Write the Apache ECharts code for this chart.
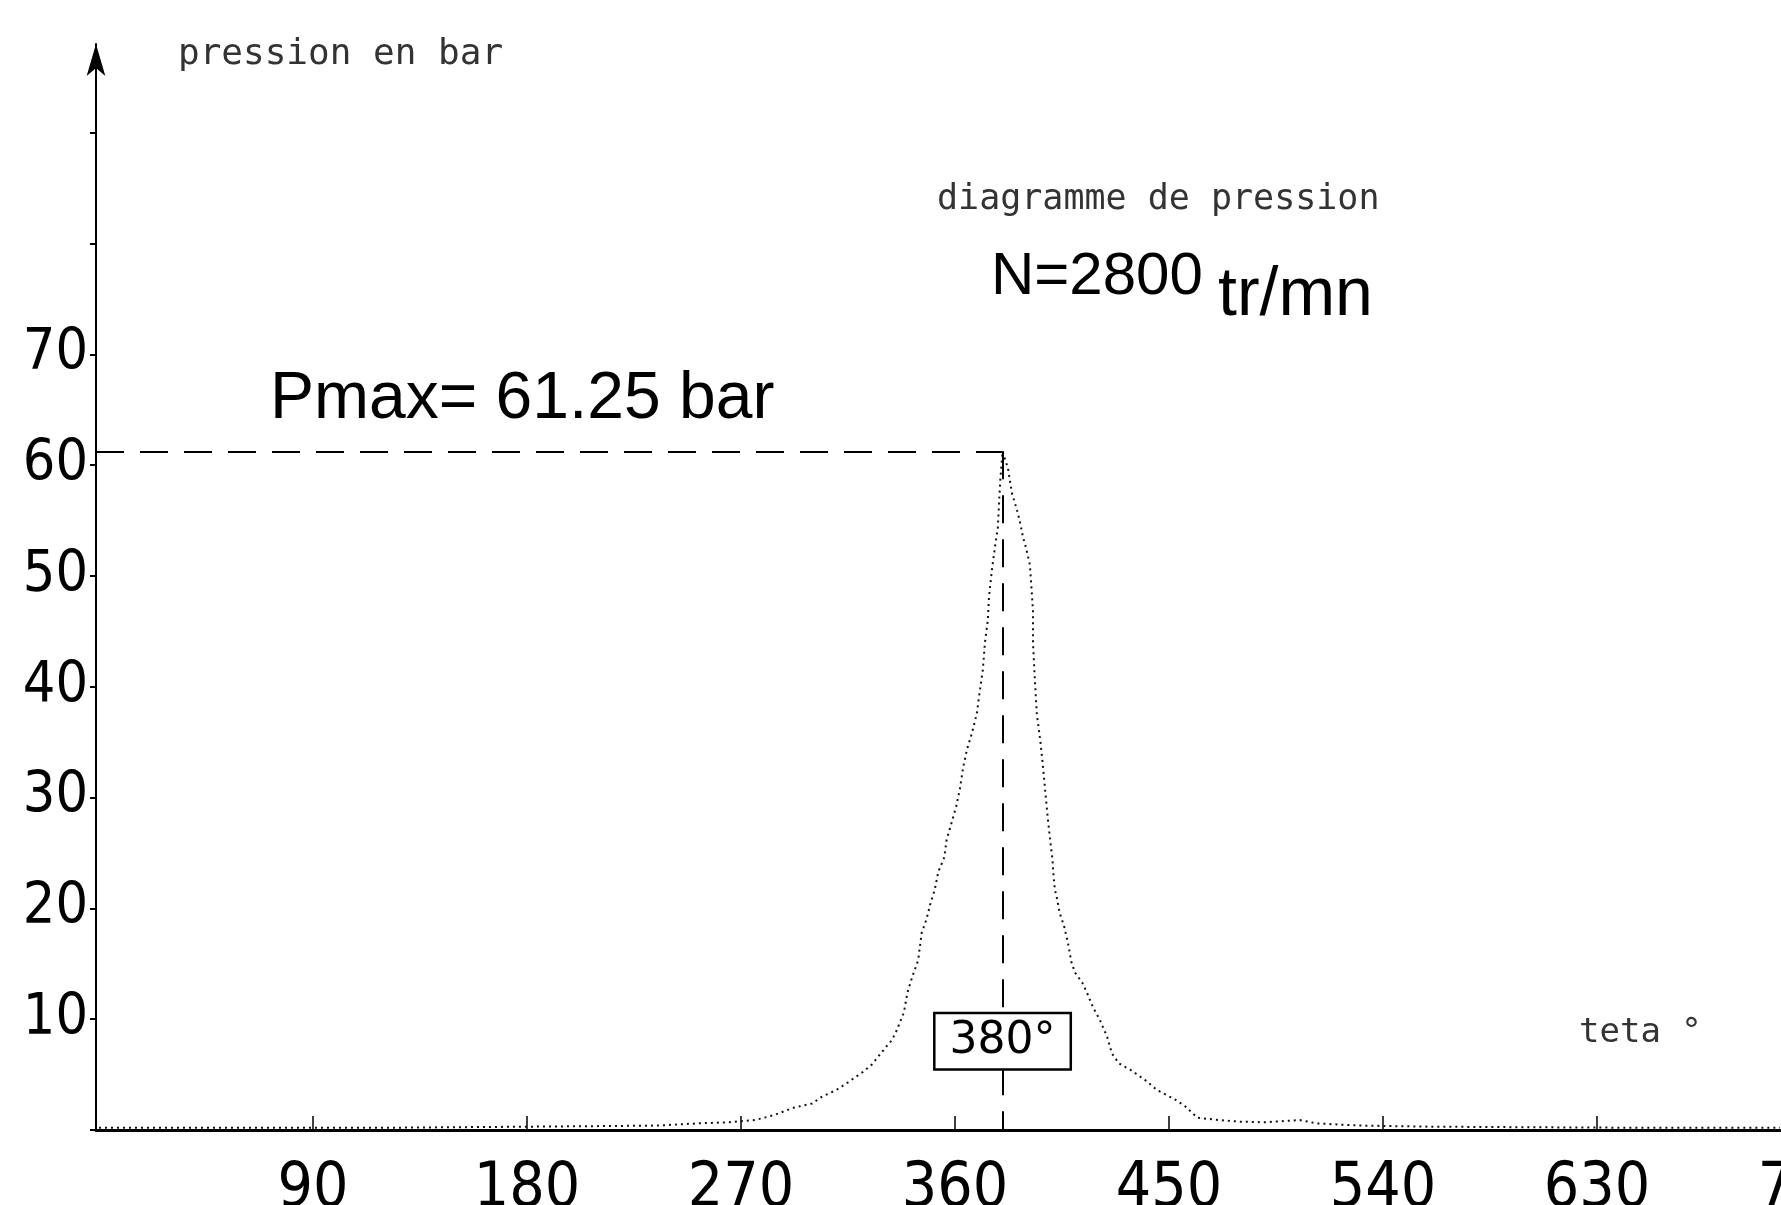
<!DOCTYPE html>
<html><head><meta charset="utf-8">
<script src="https://cdn.jsdelivr.net/npm/echarts@6/dist/echarts.min.js"></script>
<style>html,body{margin:0;padding:0;background:#fff}#c{width:1781px;height:1205px}</style>
</head><body><div id="c"></div>
<script>
// crank angle (deg) and cylinder pressure (bar)
const theta = [0, 30, 60, 90, 120, 150, 180, 210, 235, 252, 265, 276, 284, 292, 300, 304, 310, 315, 321, 325, 331.8, 333.5, 335.5, 338.5, 340, 342, 344.5, 346, 348, 349.5, 351.5, 353, 355.5, 356.5, 358, 360.5, 362, 363.5, 365, 367.1, 369.2, 370.1, 371.7, 372.6, 373.8, 374.3, 375.5, 376.8, 378, 379, 380, 382.3, 383.9, 386, 387.3, 388.6, 389.8, 391.5, 392.8, 392.8, 393.6, 394.4, 396, 397, 398, 399, 400, 401, 401.5, 402, 403, 404, 406, 407.5, 409, 410.5, 413.5, 415.5, 418, 421, 424, 426, 429, 434, 440, 445, 453, 457, 462, 471, 480, 490, 505, 512, 530, 560, 600, 650, 707];
const pressure = [0.2, 0.2, 0.2, 0.2, 0.2, 0.25, 0.3, 0.35, 0.4, 0.6, 0.7, 0.9, 1.35, 2.0, 2.4, 3.0, 3.6, 4.3, 5.2, 5.9, 7.7, 8.1, 9.0, 10.6, 12.4, 13.8, 15.3, 17.8, 19.0, 20.3, 21.7, 23.3, 24.6, 26.2, 27.3, 29.2, 30.7, 32.8, 34.3, 35.8, 37.6, 39.1, 41.5, 44.0, 46.0, 48.1, 50.5, 52.6, 54.3, 58.5, 61.25, 59.7, 57.5, 56.0, 54.9, 53.5, 52.6, 51.0, 46.9, 44.0, 40.6, 37.6, 34.9, 32.8, 30.5, 28.2, 26.2, 24.4, 22.8, 21.7, 20.8, 19.6, 18.3, 16.9, 15.1, 14.2, 13.3, 12.4, 11.1, 9.9, 8.4, 6.9, 6.0, 5.4, 4.5, 3.6, 2.7, 2.1, 1.1, 0.9, 0.75, 0.7, 0.9, 0.6, 0.4, 0.3, 0.25, 0.2, 0.2];
const xTickValues = [90, 180, 270, 360, 450, 540, 630, 720];
const yTickValues = [0, 10, 20, 30, 40, 50, 60, 70, 80, 90];
const yLabelValues = [10, 20, 30, 40, 50, 60, 70];
const titleText = 'diagramme de pression';
const speedText = 'N=2800';
const speedUnit = 'tr/mn';
const yName = 'pression en bar';
const xName = 'teta °';

const pMax = Math.max(...pressure);
const thetaPeak = theta[pressure.indexOf(pMax)];
const xMin = -1.25;

const chart = echarts.init(document.getElementById('c'));
const narrow = "'Liberation Sans Narrow', 'DejaVu Sans Condensed', 'Liberation Sans', sans-serif";
const mono = "'DejaVu Sans Mono', 'Liberation Mono', monospace";
const dash = [28, 16];

chart.setOption({
  backgroundColor: '#fff',
  animation: false,
  grid: { left: 96, right: -30, top: 44, bottom: 75, outerBoundsMode: 'none', containLabel: false },
  xAxis: {
    type: 'value', min: xMin, max: 720,
    axisLine: { onZero: true, lineStyle: { color: '#000', width: 3 } },
    axisTick: { show: true, inside: true, length: 14, customValues: xTickValues, lineStyle: { color: '#000', width: 1.5 } },
    axisLabel: { customValues: xTickValues, margin: 29, fontSize: 62, fontFamily: narrow, color: '#000', hideOverlap: false },
    splitLine: { show: false }
  },
  yAxis: {
    type: 'value', min: 0, max: 98,
    axisLine: { show: true, onZero: false, symbol: ['none', 'arrow'], symbolSize: [14, 32], lineStyle: { color: '#000', width: 2 } },
    axisTick: { show: true, length: 6, customValues: yTickValues, lineStyle: { color: '#000', width: 2 } },
    axisLabel: { customValues: yLabelValues, margin: 8, fontSize: 57, fontFamily: narrow, color: '#000' },
    splitLine: { show: false }
  },
  series: [{
    type: 'line',
    data: theta.map((t, i) => [t, pressure[i]]),
    showSymbol: false,
    lineStyle: { color: '#111', width: 2, type: [2, 4] },
    markLine: {
      silent: true, symbol: 'none', animation: false,
      label: { show: false },
      lineStyle: { color: '#000', width: 2, type: dash },
      data: [
        [{ coord: [xMin, pMax] }, { coord: [thetaPeak, pMax] }],
        [{ coord: [thetaPeak, pMax] }, { coord: [thetaPeak, 0] }]
      ]
    },
    markPoint: {
      symbol: 'rect', symbolSize: 0,
      data: [{ coord: [thetaPeak, 8] }],
      label: {
        show: true, formatter: thetaPeak + '°', color: '#000',
        fontSize: 44, fontFamily: "'DejaVu Sans', sans-serif", lineHeight: 40,
        backgroundColor: '#fff', borderColor: '#000', borderWidth: 2.5, padding: [7, 14]
      }
    }
  }],
  graphic: [
    { type: 'text', left: 178, top: 37, style: { text: yName, font: '36px ' + mono, fill: '#333' } },
    { type: 'text', left: 937, top: 182, style: { text: titleText, font: '35px ' + mono, fill: '#333' } },
    { type: 'text', left: 991, top: 247, style: { text: speedText, font: "60px 'Liberation Sans', sans-serif", fill: '#000' } },
    { type: 'text', left: 1218, top: 262, style: { text: speedUnit, font: "68px 'Liberation Sans', sans-serif", fill: '#000' } },
    { type: 'text', left: 270, top: 367, style: { text: 'Pmax= ' + pMax.toFixed(2) + ' bar', font: "66px 'Liberation Sans', sans-serif", fill: '#000' } },
    { type: 'text', left: 1579, top: 1016, style: { text: xName, font: '34px ' + mono, fill: '#333' } }
  ]
});
</script></body></html>
